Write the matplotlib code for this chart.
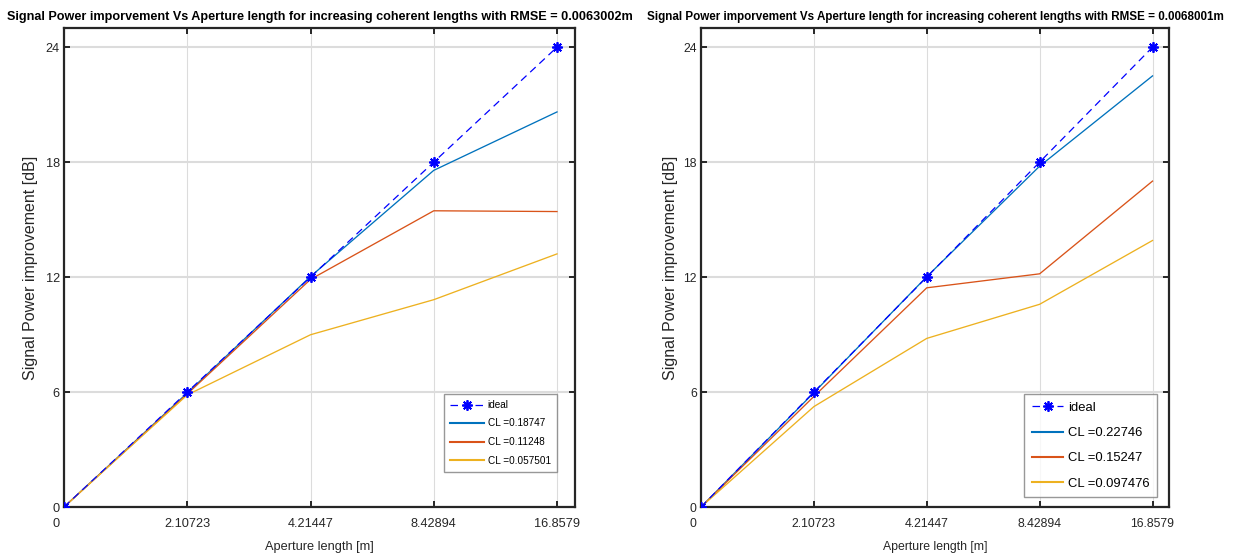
import matplotlib
matplotlib.use('Agg')
import matplotlib.pyplot as plt
import matplotlib.transforms as mtransforms

# aperture lengths [m] and signal power improvement [dB] per coherent length
apertureLabels = ['0', '2.10723', '4.21447', '8.42894', '16.8579']
idealGain = [0, 6, 12, 18, 24]

leftRmse = '0.0063002'
leftCoherent = ['0.18747', '0.11248', '0.057501']
leftGain = [
    [0, 5.95, 12.03, 17.57, 20.62],
    [0, 5.90, 11.88, 15.46, 15.42],
    [0, 5.85, 8.99, 10.82, 13.21],
]

rightRmse = '0.0068001'
rightCoherent = ['0.22746', '0.15247', '0.097476']
rightGain = [
    [0, 5.97, 12.02, 17.79, 22.50],
    [0, 5.77, 11.44, 12.17, 17.01],
    [0, 5.24, 8.80, 10.58, 13.91],
]

matlabColors = ['#0072BD', '#D95319', '#EDB120']
axisColor = '#262626'

plt.rcParams['font.family'] = ['Liberation Sans', 'DejaVu Sans']


def drawPanel(fig, rect, gains, coherent, rmse, sizes, legendAnchor, legendSpacing,
              handleLen):
    titleSize, tickSize, labelSize, legendSize = sizes
    ax = fig.add_axes(rect)
    xPos = list(range(len(apertureLabels)))

    ideal, = ax.plot(xPos, idealGain, color='#0000FF', lw=0.9,
                     marker=(8, 2, 0), markersize=7.5, markeredgewidth=1.3,
                     label='ideal', zorder=5)
    ideal.set_dashes([6, 4])
    for series, cl, col in zip(gains, coherent, matlabColors):
        ax.plot(xPos, series, color=col, lw=0.95, label=f'CL ={cl}', zorder=4)

    ax.set_xlim(0, 4.146)
    ax.set_ylim(0, 25)
    ax.set_xticks(xPos)
    ax.set_xticklabels(apertureLabels)
    ax.set_yticks([0, 6, 12, 18, 24])

    # matlab style box: inward ticks on every side, light grid
    ax.tick_params(direction='in', length=4, width=1.4, color=axisColor,
                   top=True, right=True, labelsize=tickSize, labelcolor=axisColor)
    ax.tick_params(axis='x', pad=8)
    ax.tick_params(axis='y', pad=3)
    for spine in ax.spines.values():
        spine.set_color(axisColor)
        spine.set_linewidth(1.6)
    ax.xaxis.grid(True, color='#dcdcdc', lw=0.8)
    ax.yaxis.grid(True, color='#dcdcdc', lw=1.5)
    ax.set_axisbelow(True)

    # first x label sits a little left of the axis corner
    firstLabel = ax.get_xticklabels()[0]
    shift = mtransforms.ScaledTranslation(-6 / 72, 0, fig.dpi_scale_trans)
    firstLabel.set_transform(firstLabel.get_transform() + shift)

    ax.set_xlabel('Aperture length [m]', fontsize=labelSize, color=axisColor)
    ax.xaxis.set_label_coords(0.5, -0.072)
    ax.set_ylabel('Signal Power improvement [dB]', fontsize=11.5, color=axisColor)
    ax.yaxis.set_label_coords(-0.05, 0.5)
    ax.set_title('Signal Power imporvement Vs Aperture length for increasing '
                 f'coherent lengths with RMSE = {rmse}m',
                 fontsize=titleSize, fontweight='bold', pad=6)

    leg = ax.legend(loc='upper left', bbox_to_anchor=legendAnchor,
                    bbox_transform=fig.transFigure, fontsize=legendSize,
                    frameon=True, fancybox=False, borderaxespad=0,
                    handlelength=handleLen, handletextpad=0.35, borderpad=0.6,
                    labelspacing=legendSpacing)
    leg.get_frame().set_edgecolor('#7f7f7f')
    leg.get_frame().set_linewidth(1.0)
    for line in leg.get_lines():
        line.set_linewidth(1.5)
    leg.get_lines()[0].set_linewidth(0.9)
    return ax


fig = plt.figure(figsize=(12.33, 5.58), dpi=100)
drawPanel(fig, [64 / 1233, 51 / 558, 511 / 1233, 479 / 558],
          leftGain, leftCoherent, leftRmse, (9.1, 9.2, 9.2, 7.2),
          (444 / 1233, 1 - 394 / 558), 0.85, 3.4)
drawPanel(fig, [701 / 1233, 51 / 558, 468 / 1233, 479 / 558],
          rightGain, rightCoherent, rightRmse, (8.4, 8.8, 8.8, 9.4),
          (1024 / 1233, 1 - 394 / 558), 1.0, 2.4)

plt.savefig('out.png', dpi=100)
plt.close()
